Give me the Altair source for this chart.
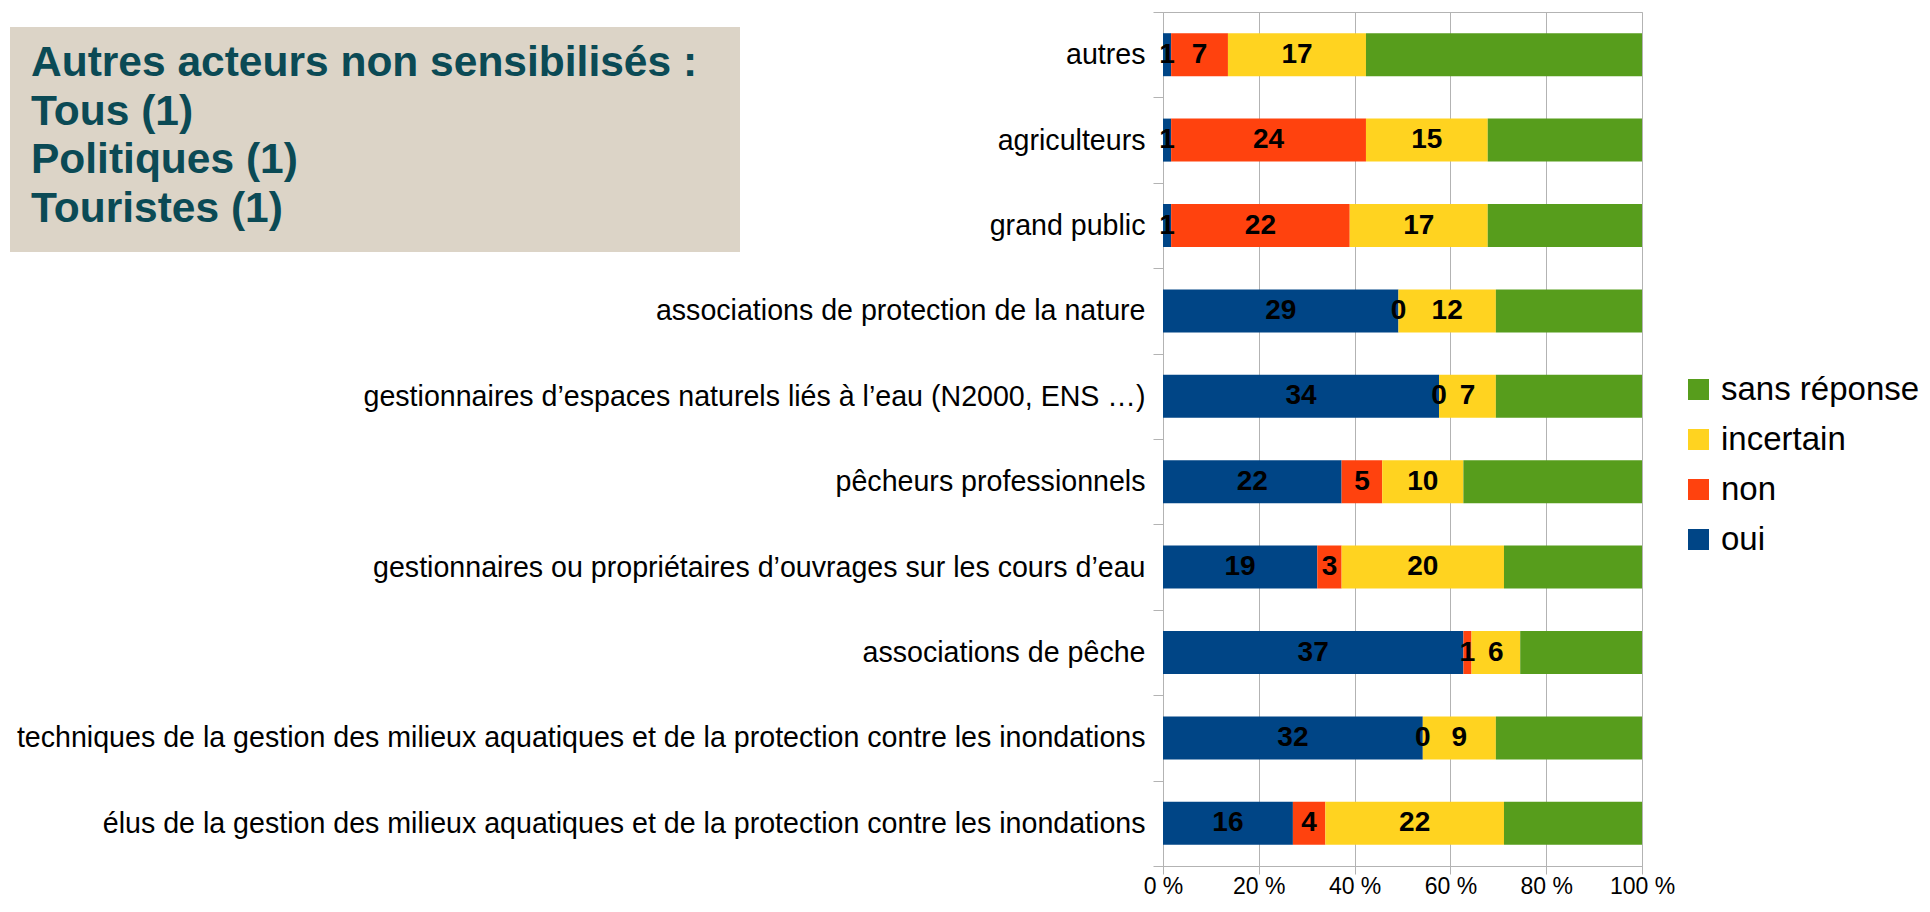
import altair as alt
import pandas as pd

categories = [
    "autres",
    "agriculteurs",
    "grand public",
    "associations de protection de la nature",
    "gestionnaires d’espaces naturels liés à l’eau (N2000, ENS …)",
    "pêcheurs professionnels",
    "gestionnaires ou propriétaires d’ouvrages sur les cours d’eau",
    "associations de pêche",
    "techniques de la gestion des milieux aquatiques et de la protection contre les inondations",
    "élus de la gestion des milieux aquatiques et de la protection contre les inondations",
]
oui = [1, 1, 1, 29, 34, 22, 19, 37, 32, 16]
non = [7, 24, 22, 0, 0, 5, 3, 1, 0, 4]
incertain = [17, 15, 17, 12, 7, 10, 20, 6, 9, 22]
sans_reponse = [34, 19, 19, 18, 18, 22, 17, 15, 18, 17]

answers = ["oui", "non", "incertain", "sans réponse"]
answer_colors = ["#004586", "#ff420e", "#ffd320", "#579d1c"]
x_ticks = [0, 0.2, 0.4, 0.6, 0.8, 1.0]

note_lines = ["Autres acteurs non sensibilisés :", "Tous (1)", "Politiques (1)", "Touristes (1)"]

rows = []
series = [oui, non, incertain, sans_reponse]
for i, c in enumerate(categories):
    for j, a in enumerate(answers):
        rows.append({"categorie": c, "reponse": a, "n": series[j][i], "ordre": j})
df = pd.DataFrame(rows)

FONT = "Liberation Sans"
GRID = "#b3b3b3"

base = alt.Chart(df).transform_stack(
    stack="n", groupby=["categorie"], as_=["x0", "x1"], offset="normalize",
    sort=[alt.SortField("ordre", order="ascending")],
).transform_calculate(mid="(datum.x0 + datum.x1) / 2")

y_enc = alt.Y(
    "categorie:N", sort=categories, title=None,
    scale=alt.Scale(paddingInner=0, paddingOuter=0),
    axis=alt.Axis(labelFont=FONT, labelFontSize=28.6, labelColor="black", labelPadding=8,
                  labelLimit=1300, tickSize=10, tickColor=GRID, domainColor=GRID,
                  tickBand="extent", grid=False),
)

bars = base.mark_bar(size=43).encode(
    x=alt.X("x0:Q", title=None, scale=alt.Scale(domain=[0, 1], nice=False),
            axis=alt.Axis(values=x_ticks, labelExpr="round(datum.value*100) + ' %'",
                          labelFont=FONT, labelFontSize=23, labelColor="black",
                          labelPadding=1, tickSize=8, tickColor=GRID, domainColor=GRID,
                          grid=True, gridColor=GRID, labelFlush=False)),
    x2="x1:Q",
    y=y_enc,
    color=alt.Color("reponse:N",
                    scale=alt.Scale(domain=answers[::-1], range=answer_colors[::-1]),
                    legend=alt.Legend(title=None, orient="none", legendX=519, legendY=361,
                                      symbolType="square", symbolSize=441, symbolStrokeWidth=0,
                                      labelFont=FONT, labelFontSize=33, labelColor="black",
                                      labelOffset=6, rowPadding=16, padding=0, labelLimit=400)),
)

labels = base.transform_filter("datum.reponse != 'sans réponse'").mark_text(
    font=FONT, fontSize=28, fontWeight="bold", color="black"
).encode(x="mid:Q", y=y_enc, text="n:Q")

one = pd.DataFrame({"k": [0]})
box = alt.Chart(one).mark_rect(color="#dcd4c7").encode(
    x=alt.value(-1153), x2=alt.value(-423), y=alt.value(15), y2=alt.value(240)
)
note = alt.Chart(one).mark_text(
    align="left", baseline="alphabetic", font=FONT, fontSize=42.5, fontWeight="bold",
    color="#0b4a55", lineHeight=48.5,
).encode(x=alt.value(-1132), y=alt.value(64), text=alt.value(note_lines))

chart = alt.layer(box, note, bars, labels).properties(
    width=479, height=854,
    autosize=alt.AutoSizeParams(type="none"),
    padding={"left": 1155, "top": 4, "right": 280, "bottom": 34},
).configure_view(stroke=GRID)

chart.save("out.html", embed_options={"renderer": "svg", "actions": False})
